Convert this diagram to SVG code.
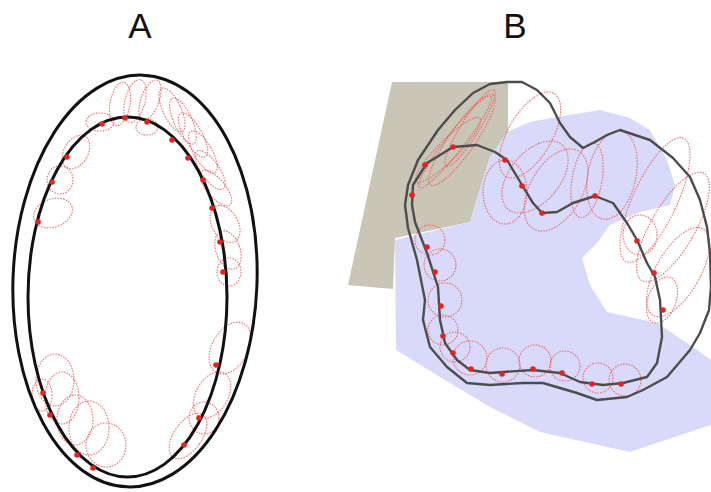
<svg xmlns="http://www.w3.org/2000/svg" width="711" height="492" viewBox="0 0 711 492">
<style>
.lbl{font-family:"Liberation Sans",Arial,sans-serif;font-size:35px;fill:#111}
.ring{fill:none;stroke:#111;stroke-width:3}
.cont{fill:none;stroke:#4c4c4c;stroke-width:2.4;stroke-linejoin:round}
.el{fill:none;stroke:#ec5a5a;stroke-width:1.1;stroke-dasharray:1.6 1.2;opacity:0.85}
.dot{fill:#e32222}
</style>
<rect width="711" height="492" fill="#fff"/>
<text class="lbl" x="140" y="38" text-anchor="middle">A</text>
<text class="lbl" x="515" y="38" text-anchor="middle">B</text>

<g id="panelA">
  <g id="A-ellipses">
    <ellipse class="el" cx="120" cy="104" rx="10" ry="22" transform="rotate(10 120 104)"/>
    <ellipse class="el" cx="135" cy="101" rx="10" ry="22" transform="rotate(15 135 101)"/>
    <ellipse class="el" cx="150" cy="100" rx="9" ry="21" transform="rotate(20 150 100)"/>
    <ellipse class="el" cx="100" cy="122" rx="14" ry="9"/>
    <ellipse class="el" cx="147" cy="127" rx="11" ry="8"/>
    <ellipse class="el" cx="172" cy="110" rx="9" ry="24" transform="rotate(-25 172 110)"/>
    <ellipse class="el" cx="183" cy="121" rx="9" ry="25" transform="rotate(-25 183 121)"/>
    <ellipse class="el" cx="193" cy="135" rx="9" ry="25" transform="rotate(-30 193 135)"/>
    <ellipse class="el" cx="203" cy="152" rx="9" ry="24" transform="rotate(-30 203 152)"/>
    <ellipse class="el" cx="210" cy="170" rx="9" ry="23" transform="rotate(-35 210 170)"/>
    <ellipse class="el" cx="216" cy="188" rx="9" ry="22" transform="rotate(-40 216 188)"/>
    <ellipse class="el" cx="225" cy="224" rx="13" ry="20" transform="rotate(-30 225 224)"/>
    <ellipse class="el" cx="228" cy="250" rx="12" ry="20" transform="rotate(-20 228 250)"/>
    <ellipse class="el" cx="229" cy="272" rx="12" ry="14"/>
    <ellipse class="el" cx="76" cy="152" rx="12" ry="18" transform="rotate(30 76 152)"/>
    <ellipse class="el" cx="60" cy="180" rx="13" ry="14"/>
    <ellipse class="el" cx="53" cy="213" rx="20" ry="14" transform="rotate(-20 53 213)"/>
    <ellipse class="el" cx="230" cy="348" rx="18" ry="28" transform="rotate(30 230 348)"/>
    <ellipse class="el" cx="212" cy="395" rx="16" ry="25" transform="rotate(30 212 395)"/>
    <ellipse class="el" cx="204" cy="418" rx="15" ry="16"/>
    <ellipse class="el" cx="188" cy="436" rx="14" ry="26" transform="rotate(35 188 436)"/>
    <ellipse class="el" cx="55" cy="380" rx="19" ry="26"/>
    <ellipse class="el" cx="62" cy="398" rx="17" ry="26"/>
    <ellipse class="el" cx="75" cy="420" rx="18" ry="25"/>
    <ellipse class="el" cx="89" cy="428" rx="20" ry="27"/>
    <ellipse class="el" cx="106" cy="445" rx="20" ry="22"/>
    <ellipse class="el" cx="42" cy="395" rx="10" ry="16"/>
  </g>
  <g id="A-rings">
    <ellipse class="ring" cx="135" cy="281" rx="122" ry="206" transform="rotate(2.2 135 281)"/>
    <ellipse class="ring" cx="127.5" cy="297" rx="99.5" ry="180"/>
  </g>
  <g id="A-dots">
    <circle class="dot" cx="125" cy="118" r="2.8"/>
    <circle class="dot" cx="102" cy="124" r="2.8"/>
    <circle class="dot" cx="147" cy="122" r="2.8"/>
    <circle class="dot" cx="67" cy="157" r="2.8"/>
    <circle class="dot" cx="52" cy="182" r="2.8"/>
    <circle class="dot" cx="38" cy="222" r="2.8"/>
    <circle class="dot" cx="172" cy="140" r="2.8"/>
    <circle class="dot" cx="188" cy="158" r="2.8"/>
    <circle class="dot" cx="203" cy="180" r="2.8"/>
    <circle class="dot" cx="212" cy="208" r="2.8"/>
    <circle class="dot" cx="220" cy="242" r="2.8"/>
    <circle class="dot" cx="223" cy="272" r="2.8"/>
    <circle class="dot" cx="216" cy="365" r="2.8"/>
    <circle class="dot" cx="199" cy="418" r="2.8"/>
    <circle class="dot" cx="184" cy="445" r="2.8"/>
    <circle class="dot" cx="43" cy="393" r="2.8"/>
    <circle class="dot" cx="50" cy="415" r="2.8"/>
    <circle class="dot" cx="77" cy="455" r="2.8"/>
    <circle class="dot" cx="93" cy="468" r="2.8"/>
  </g>
</g>

<g id="panelB">
  <g id="B-regions">
    <polygon fill="#c9c6b7" points="392,82 508,82 508,137 490,157 478,195 470,222 395,238 393,289 348,285"/>
    <polygon fill="#d9dafa" points="507,132 530,122 557,117 600,110 630,118 650,130 667,160 675,185 670,205 640,212 610,225 597,243 582,258 590,285 607,312 657,323 690,345 711,360 711,425 630,452 540,432 490,407 440,377 396,350 395,240 470,222 478,195 490,157"/>
  </g>
  <g id="B-ellipses">
    <ellipse class="el" cx="455" cy="142" rx="58" ry="9" transform="rotate(-52 455 142)"/>
    <ellipse class="el" cx="462" cy="140" rx="55" ry="13" transform="rotate(-55 462 140)"/>
    <ellipse class="el" cx="448" cy="150" rx="45" ry="10" transform="rotate(-45 448 150)"/>
    <ellipse class="el" cx="470" cy="128" rx="45" ry="9" transform="rotate(-58 470 128)"/>
    <ellipse class="el" cx="530" cy="135" rx="22" ry="48" transform="rotate(30 530 135)"/>
    <ellipse class="el" cx="535" cy="177" rx="25" ry="42" transform="rotate(40 535 177)"/>
    <ellipse class="el" cx="556" cy="190" rx="26" ry="45" transform="rotate(30 556 190)"/>
    <ellipse class="el" cx="587" cy="180" rx="15" ry="38" transform="rotate(10 587 180)"/>
    <ellipse class="el" cx="612" cy="175" rx="24" ry="45" transform="rotate(12 612 175)"/>
    <ellipse class="el" cx="505" cy="192" rx="22" ry="32"/>
    <ellipse class="el" cx="655" cy="200" rx="22" ry="68" transform="rotate(25 655 200)"/>
    <ellipse class="el" cx="673" cy="227" rx="22" ry="62" transform="rotate(30 673 227)"/>
    <ellipse class="el" cx="640" cy="235" rx="17" ry="20"/>
    <ellipse class="el" cx="678" cy="272" rx="22" ry="50" transform="rotate(30 678 272)"/>
    <ellipse class="el" cx="662" cy="300" rx="14" ry="24" transform="rotate(20 662 300)"/>
    <circle class="el" cx="430" cy="240" r="15"/>
    <circle class="el" cx="440" cy="265" r="16"/>
    <circle class="el" cx="445" cy="300" r="17"/>
    <circle class="el" cx="443" cy="330" r="15"/>
    <circle class="el" cx="455" cy="347" r="15"/>
    <circle class="el" cx="470" cy="358" r="17"/>
    <circle class="el" cx="503" cy="365" r="17"/>
    <circle class="el" cx="535" cy="361" r="16"/>
    <circle class="el" cx="565" cy="366" r="15"/>
    <circle class="el" cx="598" cy="378" r="15"/>
    <circle class="el" cx="625" cy="380" r="16"/>
  </g>
  <g id="B-contours">
    <polyline class="cont" points="473,93 490,84 507,82 522,82 537,90 550,103 560,123 570,137 583,148 593,143 607,135 620,130 650,140 673,158 690,177 700,200 707,227 710,253 711,287 709,310 700,333 690,350 667,377 643,390 627,397 597,400 577,393 543,383 523,383 490,385 467,383 447,367 430,347 423,320 425,300 417,260 408,228 405,205 408,185 418,160 438,130 455,110 473,93"/>
    <polyline class="cont" points="412,205 413,185 427,163 453,147 477,145 495,152 507,160 522,185 533,203 542,213 557,212 573,203 595,196 613,203 627,223 637,240 647,263 655,277 660,300 662,337 657,363 647,377 623,383 603,385 580,382 560,373 533,370 503,372 490,373 470,370 457,360 445,343 440,320 438,287 427,253 415,222 412,205"/>
  </g>
  <g id="B-dots">
    <circle class="dot" cx="453" cy="147" r="2.8"/>
    <circle class="dot" cx="425" cy="165" r="2.8"/>
    <circle class="dot" cx="412" cy="195" r="2.8"/>
    <circle class="dot" cx="505" cy="160" r="2.8"/>
    <circle class="dot" cx="522" cy="186" r="2.8"/>
    <circle class="dot" cx="542" cy="213" r="2.8"/>
    <circle class="dot" cx="595" cy="196" r="2.8"/>
    <circle class="dot" cx="637" cy="241" r="2.8"/>
    <circle class="dot" cx="654" cy="273" r="2.8"/>
    <circle class="dot" cx="663" cy="310" r="2.8"/>
    <circle class="dot" cx="427" cy="247" r="2.8"/>
    <circle class="dot" cx="435" cy="272" r="2.8"/>
    <circle class="dot" cx="441" cy="306" r="2.8"/>
    <circle class="dot" cx="443" cy="336" r="2.8"/>
    <circle class="dot" cx="453" cy="353" r="2.8"/>
    <circle class="dot" cx="471" cy="369" r="2.8"/>
    <circle class="dot" cx="502" cy="374" r="2.8"/>
    <circle class="dot" cx="533" cy="369" r="2.8"/>
    <circle class="dot" cx="562" cy="373" r="2.8"/>
    <circle class="dot" cx="592" cy="384" r="2.8"/>
    <circle class="dot" cx="621" cy="384" r="2.8"/>
  </g>
</g>
</svg>
